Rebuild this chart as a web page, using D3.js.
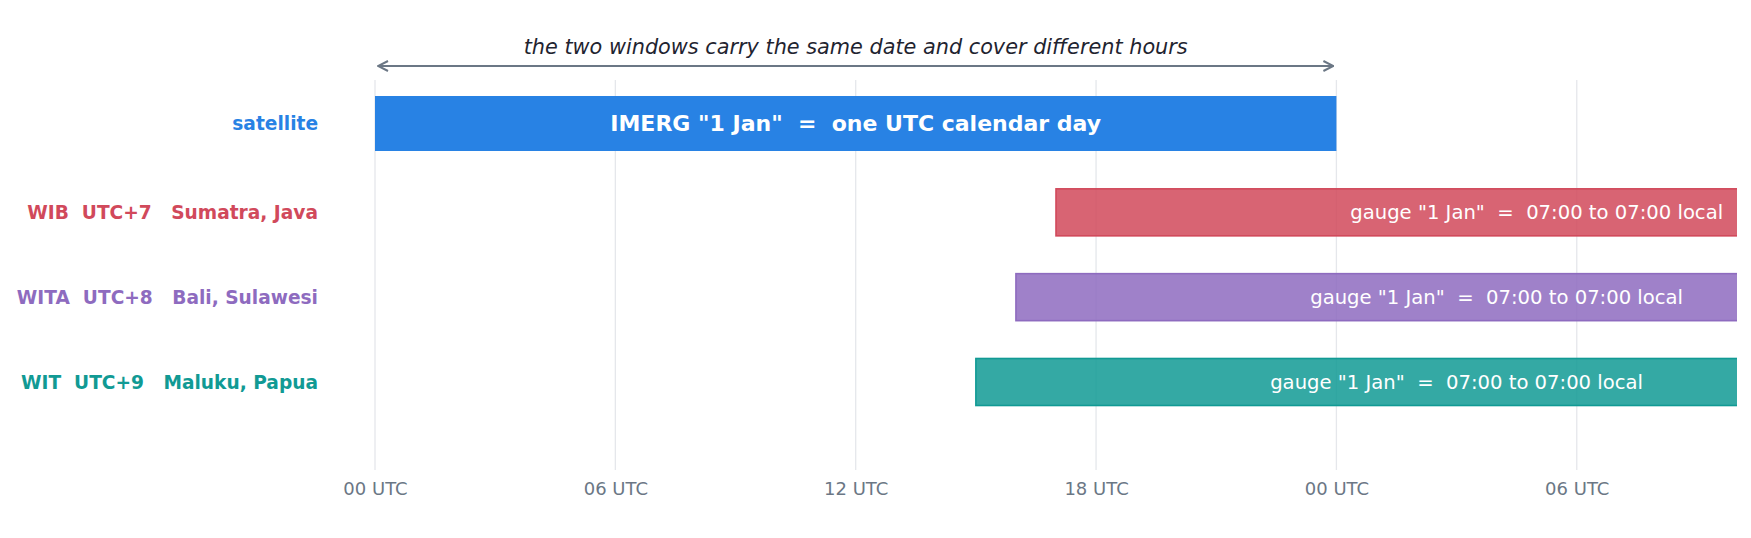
<!DOCTYPE html>
<html>
<head>
<meta charset="utf-8">
<script src="https://cdn.jsdelivr.net/npm/d3@7"></script>
<style>
  body { margin: 0; background: #fff; }
  text { font-family: "DejaVu Sans", sans-serif; white-space: pre; }
</style>
</head>
<body>
<div id="chart"></div>
<script>
var W = 1751, H = 538;

// rows, top to bottom
var rowNames  = ["satellite", "WIB", "WITA", "WIT"];
var rowLabels = ["satellite", "WIB  UTC+7   Sumatra, Java", "WITA  UTC+8   Bali, Sulawesi", "WIT  UTC+9   Maluku, Papua"];
var rowColors = ["#2882e4", "#d1495b", "#8e6bbf", "#119a94"];
// window start / end in hours after 00 UTC of the IMERG day
var winStart = [0, 17, 16, 15];
var winEnd   = [24, 41, 40, 39];
var barTexts = ['IMERG "1 Jan"  =  one UTC calendar day',
                'gauge "1 Jan"  =  07:00 to 07:00 local',
                'gauge "1 Jan"  =  07:00 to 07:00 local',
                'gauge "1 Jan"  =  07:00 to 07:00 local'];

var tickHours  = [0, 6, 12, 18, 24, 30];
var tickLabels = ["00 UTC", "06 UTC", "12 UTC", "18 UTC", "00 UTC", "06 UTC"];
var xMax = 34;

var margin = {top: 80, right: 14, bottom: 68, left: 375},
    width = W - margin.left - margin.right,
    height = H - margin.top - margin.bottom;

var svg = d3.select("#chart")
  .append("svg")
    .attr("width", W)
    .attr("height", H);

var defs = svg.append("defs");
defs.append("clipPath").attr("id", "plotclip")
  .append("rect").attr("x", 0).attr("y", -margin.top).attr("width", width).attr("height", H);
defs.append("marker")
    .attr("id", "head")
    .attr("viewBox", "0 0 12 12")
    .attr("refX", 11).attr("refY", 6)
    .attr("markerWidth", 12).attr("markerHeight", 12)
    .attr("markerUnits", "userSpaceOnUse")
    .attr("orient", "auto-start-reverse")
  .append("path")
    .attr("d", "M1,1 L11,6 L1,11")
    .attr("fill", "none")
    .attr("stroke", "#6b7785")
    .attr("stroke-width", 2);

var g = svg.append("g")
    .attr("transform", "translate(" + margin.left + "," + margin.top + ")");

var x = d3.scaleLinear().domain([0, xMax]).range([0, width]);

var y = d3.scalePoint()
    .domain(rowNames)
    .range([47.5, 302]);

// grid
g.selectAll(".grid")
  .data(tickHours)
  .enter().append("line")
    .attr("x1", function(d) { return x(d); })
    .attr("x2", function(d) { return x(d); })
    .attr("y1", 0).attr("y2", height)
    .attr("stroke", "#e5e7eb")
    .attr("stroke-width", 1.3);

// x axis labels
var xAxis = g.append("g")
    .attr("transform", "translate(0," + height + ")")
    .call(d3.axisBottom(x).tickValues(tickHours)
      .tickFormat(function(d, i) { return tickLabels[i]; })
      .tickSize(0).tickPadding(12));
xAxis.select(".domain").remove();
xAxis.selectAll("text")
    .style("font-family", "DejaVu Sans, sans-serif")
    .style("font-size", "18px")
    .attr("fill", "#6b7785");

var rows = rowNames.map(function(n, i) {
  return {name: n, label: rowLabels[i], color: rowColors[i], s: winStart[i], e: winEnd[i], text: barTexts[i], i: i};
});

function barH(d) { return d.i === 0 ? 55 : 47; }
function barMid(d) { return d.i === 0 ? y(d.name) - 4 : y(d.name); }

var plot = g.append("g").attr("clip-path", "url(#plotclip)");

plot.selectAll(".bar")
  .data(rows)
  .enter().append("rect")
    .attr("x", function(d) { return x(d.s); })
    .attr("width", function(d) { return x(d.e) - x(d.s); })
    .attr("y", function(d) { return barMid(d) - barH(d) / 2; })
    .attr("height", barH)
    .attr("fill", function(d) { return d.color; })
    .attr("fill-opacity", function(d) { return d.i === 0 ? 1 : 0.85; })
    .attr("stroke", function(d) { return d.color; })
    .attr("stroke-width", function(d) { return d.i === 0 ? 0 : 1.6; });

plot.selectAll(".bartext")
  .data(rows)
  .enter().append("text")
    .attr("x", function(d) { return x((d.s + d.e) / 2); })
    .attr("y", barMid)
    .attr("dy", "0.36em")
    .attr("text-anchor", "middle")
    .attr("fill", "#fff")
    .style("font-size", function(d) { return d.i === 0 ? "22px" : "19.6px"; })
    .style("font-weight", function(d) { return d.i === 0 ? "bold" : "normal"; })
    .text(function(d) { return d.text; });

// row labels
g.selectAll(".rowlabel")
  .data(rows)
  .enter().append("text")
    .attr("x", -57)
    .attr("y", barMid)
    .attr("dy", "0.36em")
    .attr("text-anchor", "end")
    .attr("fill", function(d) { return d.color; })
    .style("font-size", "18.6px")
    .style("font-weight", "bold")
    .text(function(d) { return d.label; });

// double arrow over the satellite day
g.append("line")
    .attr("x1", x(0) + 3).attr("x2", x(24) - 3)
    .attr("y1", -14).attr("y2", -14)
    .attr("stroke", "#6b7785")
    .attr("stroke-width", 2)
    .attr("marker-start", "url(#head)")
    .attr("marker-end", "url(#head)");

g.append("text")
    .attr("x", x(12))
    .attr("y", -26)
    .attr("text-anchor", "middle")
    .attr("fill", "#1f2430")
    .style("font-size", "20.8px")
    .style("font-style", "italic")
    .text("the two windows carry the same date and cover different hours");
</script>
</body>
</html>
